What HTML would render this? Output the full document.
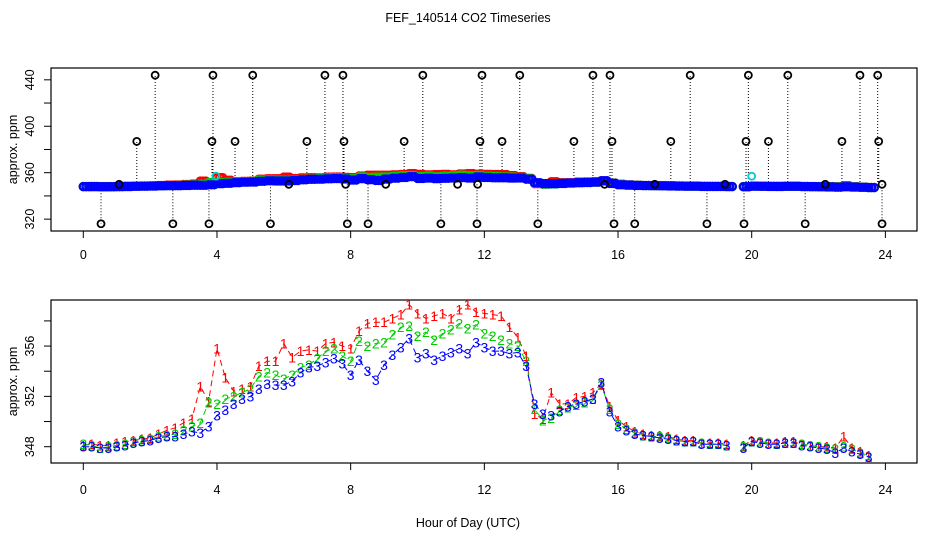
<!DOCTYPE html>
<html><head><meta charset="utf-8"><style>
html,body{margin:0;padding:0;background:#fff;}
svg{display:block;font-family:"Liberation Sans",sans-serif;}
</style></head><body>
<svg id="chart" width="936" height="540" viewBox="0 0 936 540" xmlns="http://www.w3.org/2000/svg">
<rect width="936" height="540" fill="#fff"/>
<text x="468" y="22" text-anchor="middle" font-size="12.5" fill="#000">FEF_140514  CO2 Timeseries</text>
<text x="468" y="527" text-anchor="middle" font-size="12.5" fill="#000">Hour of Day (UTC)</text>
<g id="topPanel"></g>
<g id="botPanel"></g>
</svg>
<script>
const hours = [];
for (let i = 0; i < 96; i++) hours.push(i * 0.25);
const series1 = [348.1,348.2,348.1,348.1,348.3,348.4,348.5,348.6,348.7,349.0,349.3,349.5,349.9,350.2,352.8,351.6,355.8,353.5,352.4,352.6,352.8,354.4,354.8,354.8,356.2,355.1,355.6,355.7,355.6,356.2,356.3,356.0,355.8,357.2,357.8,357.9,357.9,358.2,358.5,359.3,358.6,358.2,358.4,358.6,358.2,358.9,359.3,358.7,358.6,358.5,358.4,357.5,356.7,355.2,350.6,350.2,352.3,351.4,351.4,351.9,352.0,352.3,353.0,351.2,350.1,349.6,349.2,349.0,348.9,348.9,348.8,348.6,348.5,348.5,348.3,348.3,348.3,348.2,null,348.1,348.5,348.4,348.3,348.3,348.4,348.4,348.2,348.1,348.0,348.0,347.9,348.8,347.9,347.6,347.3,null];
const series2 = [348.2,348.1,347.9,348.0,348.1,348.2,348.4,348.5,348.6,348.8,348.9,349.0,349.3,349.6,349.9,351.5,351.4,351.8,352.0,352.3,352.6,353.6,353.9,353.7,353.4,353.7,354.3,354.5,355.0,355.6,355.8,355.2,354.8,356.4,356.0,356.2,356.3,356.9,357.5,357.6,356.8,357.1,356.5,357.0,357.3,357.8,357.4,357.7,357.0,356.8,356.5,356.2,356.0,354.8,351.0,350.1,350.3,350.9,351.1,351.3,351.5,351.8,352.9,351.0,349.8,349.4,349.1,348.9,348.8,348.8,348.7,348.5,348.4,348.4,348.3,348.2,348.2,348.1,null,348.0,348.4,348.4,348.3,348.2,348.3,348.3,348.2,348.1,348.0,347.9,347.8,348.0,347.8,347.5,347.2,null];
const series3 = [348.0,348.0,347.9,347.9,348.0,348.1,348.3,348.4,348.5,348.7,348.8,348.8,349.0,349.2,349.1,349.6,350.5,350.9,351.4,351.8,352.0,352.6,353.0,352.9,352.9,353.2,353.9,354.3,354.4,354.7,355.0,354.6,353.7,354.9,354.0,353.3,354.5,355.3,355.9,356.6,355.1,355.4,354.9,355.2,355.5,355.8,355.4,356.3,355.9,355.6,355.6,355.4,355.5,354.4,351.4,350.6,350.5,350.8,351.2,351.4,351.6,351.8,353.1,350.8,349.6,349.3,349.0,348.9,348.8,348.7,348.6,348.5,348.4,348.4,348.2,348.2,348.2,348.1,null,347.9,348.4,348.3,348.2,348.2,348.3,348.3,348.1,348.0,347.9,347.8,347.5,347.9,347.6,347.4,347.2,null];
const outlierHours = [2.15,3.88,5.07,7.23,7.77,10.16,11.93,13.06,15.25,15.76,18.16,19.9,21.08,23.24,23.77,
  1.6,3.85,4.54,6.69,7.8,9.6,11.87,12.53,14.68,15.82,17.58,19.83,20.5,22.7,23.8,
  0.53,2.68,3.76,5.6,7.9,8.52,10.7,11.78,13.6,15.88,16.5,18.66,19.77,21.6,23.9,
  1.07,6.15,7.85,9.05,11.2,11.8,15.6,17.1,19.2,22.2,23.9];
const outlierValues = [444,444,444,444,444,444,444,444,444,444,444,444,444,444,444,
  387,387,387,387,387,387,387,387,387,387,387,387,387,387,387,
  316,316,316,316,316,316,316,316,316,316,316,316,316,316,316,
  350,350,350,350,350,350,350,350,350,350,350];
const cyanHours = [3.97, 20.0];
const cyanValues = [357, 357];
const xTicks = [0,4,8,12,16,20,24];
const topYTicks = [320,340,360,380,400,420,440];
const topYLabels = ["320","","360","","400","","440"];
const botYTicks = [348,350,352,354,356,358];
const botYLabels = ["348","","352","","356",""];

const NS = "http://www.w3.org/2000/svg";
const X0 = 83.3, XS = 33.42;
function xs(h){ return X0 + h * XS; }
function yTop(v){ return 172.7 - (v - 360) * 1.161; }
function yBot(v){ return 446.7 - (v - 348) * 12.58; }
function mk(tag, attrs, parent){ const e = document.createElementNS(NS, tag); for (const k in attrs) e.setAttribute(k, attrs[k]); parent.appendChild(e); return e; }

function drawAxes(g, y0, y1, yf, yt, yl, labelY){
  const box = mk('rect', {x:51, y:y0, width:866, height:y1-y0, fill:'none', stroke:'#000', 'stroke-width':1.2}, g);
  
  
  mk('line', {x1:xs(0), x2:xs(24), y1:y1, y2:y1, stroke:'#000'}, g);
  xTicks.forEach(t => {
    mk('line', {x1:xs(t), x2:xs(t), y1:y1, y2:y1+7, stroke:'#000'}, g);
    const tx = mk('text', {x:xs(t), y:labelY, 'text-anchor':'middle', 'font-size':12.5}, g);
    tx.textContent = t;
    
    
  });
  yt.forEach((t, i) => {
    const y = yf(t);
    mk('line', {x1:44, x2:51, y1:y, y2:y, stroke:'#000'}, g);
    if (yl[i]) {
      const tx = mk('text', {x:0, y:0, 'text-anchor':'middle', 'font-size':12.5, transform:`translate(34,${y}) rotate(-90)`}, g);
      tx.textContent = yl[i];
      
      
    }
  });
  const yt2 = mk('text', {x:0, y:0, 'text-anchor':'middle', 'font-size':12.5, transform:`translate(17,${(y0+y1)/2}) rotate(-90)`}, g);
  yt2.textContent = 'approx. ppm';
  
  
}

const topG = document.getElementById('topPanel');
drawAxes(topG, 68, 231, yTop, topYTicks, topYLabels, 259);
outlierHours.forEach((h, i) => {
  const v = outlierValues[i];
  const base = v > 360 ? 352 : 350;
  if (v !== 350) mk('line', {x1:xs(h), x2:xs(h), y1:yTop(base), y2:yTop(v), stroke:'#000', 'stroke-width':1, 'stroke-dasharray':'1,2'}, topG);
});
const colors = ['#ff0000', '#00cc00', '#0000ff'];
[series1, series2, series3].forEach((s, si) => {
  const g = mk('g', {}, topG);
  
  
  s.forEach((v, i) => {
    if (v === null) return;
    for (let k = 0; k < 3; k++) {
      const c = mk('circle', {cx:xs(hours[i]) + k*2.8, cy:yTop(v), r:3.6, fill:'none', stroke:colors[si], 'stroke-width':2.2}, g);
      
      
    }
  });
});
outlierHours.forEach((h, i) => {
  const c = mk('circle', {cx:xs(h), cy:yTop(outlierValues[i]), r:3.5, fill:'none', stroke:'#000', 'stroke-width':1.8}, topG);
  
  
});
cyanHours.forEach((h, i) => {
  const c = mk('circle', {cx:xs(h), cy:yTop(cyanValues[i]), r:3.5, fill:'none', stroke:'#00cccc', 'stroke-width':1.8}, topG);
  
  
});

const botG = document.getElementById('botPanel');
drawAxes(botG, 300, 463, yBot, botYTicks, botYLabels, 494);
[series1, series2, series3].forEach((s, si) => {
  const g = mk('g', {}, botG);
  
  
  let d = '', pen = false;
  s.forEach((v, i) => {
    if (v === null) { pen = false; return; }
    d += (pen ? 'L' : 'M') + xs(hours[i]).toFixed(1) + ',' + yBot(v).toFixed(1);
    pen = true;
  });
  const p = mk('path', {d:d, fill:'none', stroke:colors[si], 'stroke-width':1, 'stroke-dasharray':'6,4'}, g);
  
  
  s.forEach((v, i) => {
    if (v === null) return;
    const t = mk('text', {x:xs(hours[i]), y:yBot(v) + 5, 'text-anchor':'middle', 'font-size':14, fill:colors[si]}, g);
    t.textContent = String(si + 1);
    
    
  });
});
</script>
</body></html>
